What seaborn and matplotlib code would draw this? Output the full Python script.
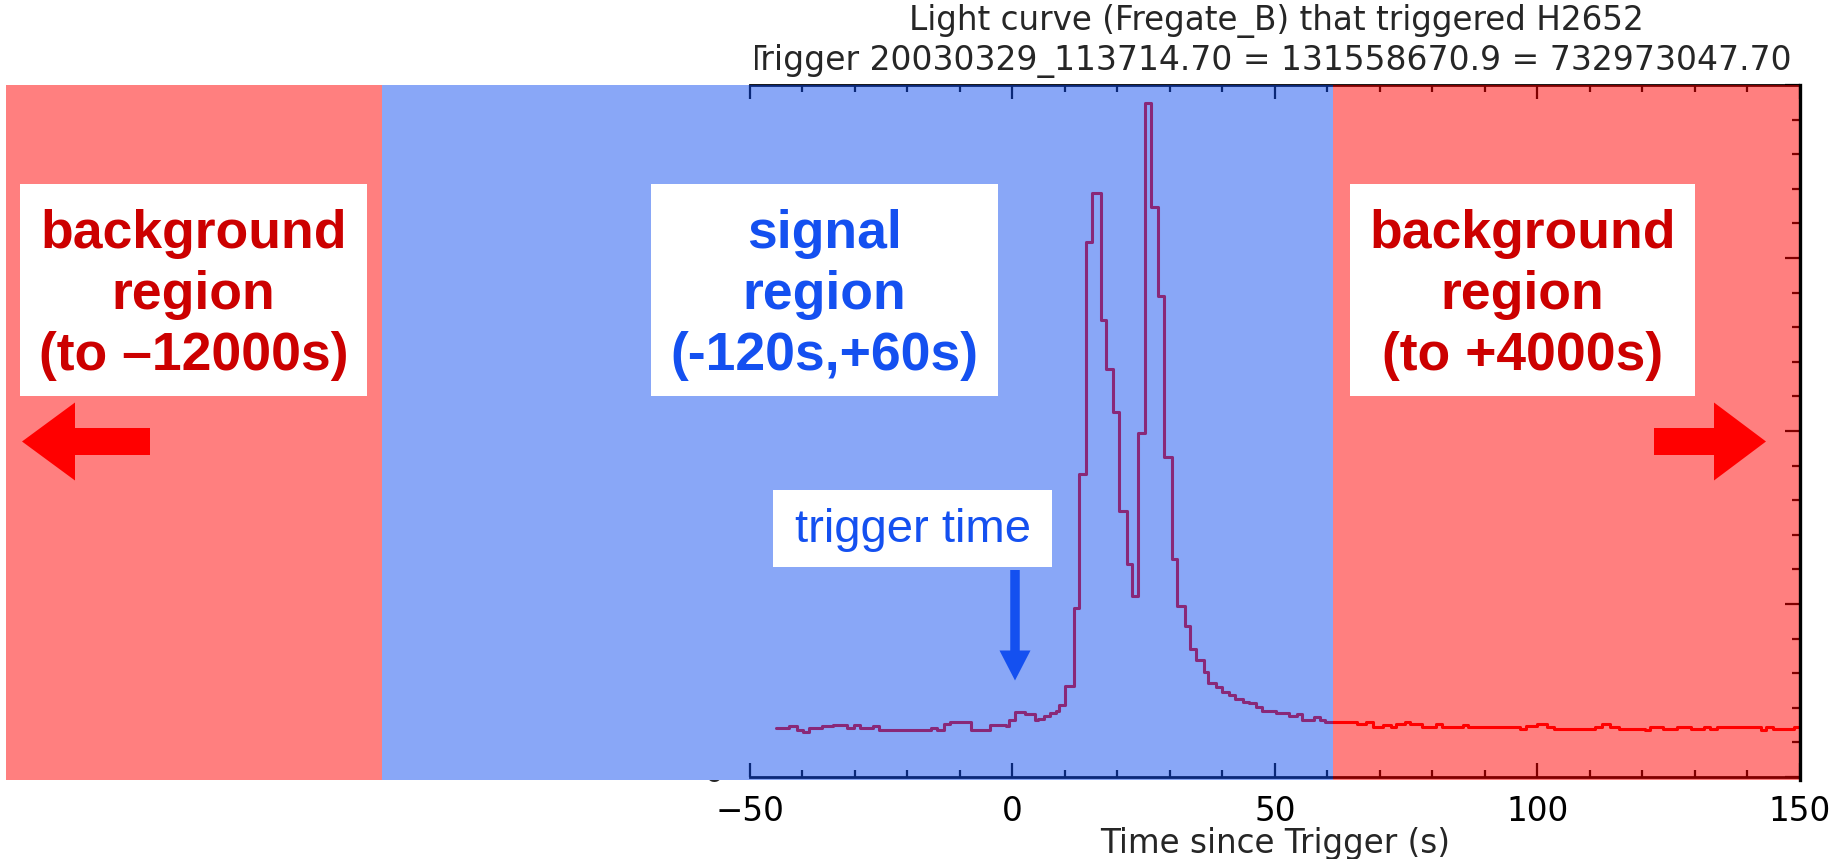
import matplotlib
matplotlib.use("Agg")
import matplotlib.pyplot as plt
import matplotlib.transforms as mtransforms
from matplotlib.patches import Rectangle, FancyArrow
from matplotlib.ticker import FixedLocator, MultipleLocator
import seaborn as sns
import pandas as pd

# light curve (bin start time in s, count rate)
time_s = [-45.0, -42.5, -41.0, -39.9, -38.8, -36.3, -34.1, -31.6, -30.1, -29.0,
          -26.5, -25.4, -15.5, -14.4, -13.0, -11.9, -7.9, -4.2, -1.3, -0.6,
          0.5, 2.3, 4.2, 4.9, 6.0, 7.1, 8.2, 8.9, 10.0, 11.8,
          12.7, 14.1, 15.1, 16.8, 17.8, 19.1, 20.2, 21.9, 22.7, 24.0,
          25.3, 26.4, 27.8, 28.9, 30.4, 31.3, 32.8, 33.8, 34.9, 36.4,
          37.3, 38.8, 39.9, 41.3, 42.4, 43.9, 45.0, 46.4, 47.5, 50.1,
          52.6, 54.1, 55.2, 57.4, 58.5, 59.5, 65.6, 67.3, 68.6, 70.5,
          72.1, 73.1, 74.8, 75.7, 78.0, 80.6, 81.9, 85.8, 86.8, 96.6,
          97.9, 99.9, 101.8, 103.1, 110.9, 112.3, 113.9, 115.5, 120.4, 121.4,
          124.0, 126.6, 129.2, 131.8, 132.8, 134.1, 142.6, 143.6, 144.9, 148.8,
          150.0]
rate = [141, 146, 137, 130, 141, 146, 151, 143, 150, 141,
        146, 137, 143, 137, 152, 159, 137, 150, 146, 165,
        187, 182, 166, 169, 175, 184, 192, 208, 263, 489,
        876, 1547, 1687, 1321, 1179, 1055, 769, 617, 524, 995,
        1949, 1646, 1391, 926, 630, 495, 437, 369, 337, 304,
        272, 259, 246, 237, 224, 218, 214, 201, 192, 184,
        175, 182, 166, 172, 166, 158, 152, 158, 145, 150,
        144, 152, 158, 153, 145, 152, 145, 151, 145, 138,
        146, 153, 145, 138, 145, 153, 145, 138, 136, 145,
        138, 145, 138, 145, 138, 145, 136, 145, 138, 145,
        145]

x_major = [-50, 0, 50, 100, 150]
x_minor = list(range(-50, 151, 10))

# shaded regions (start, end, colour)
region_start = [-191.7, -120, 61]
region_end = [-120, 61, 150]
region_color = ["#ff0000", "#1450f0", "#ff0000"]

box_labels = ["background\nregion\n(to \u201312000s)",
              "signal\nregion\n(-120s,+60s)",
              "background\nregion\n(to +4000s)"]
box_colors = ["#cc0000", "#1450f0", "#cc0000"]

title1 = "Light curve (Fregate_B) that triggered H2652"
title2 = "Trigger 20030329_113714.70 = 131558670.9 = 732973047.70"

sns.set_style("ticks")
plt.rcParams["font.family"] = ["DejaVu Sans"]

W, H = 1837, 859
fig = plt.figure(figsize=(W / 100, H / 100), dpi=100)
# helper transform: reference pixels (origin top-left) -> figure
px = mtransforms.Affine2D().scale(1 / W, -1 / H).translate(0, 1) + fig.transFigure

ax = fig.add_axes([6 / W, 1 - 780 / H, (1800 - 6) / W, (780 - 85) / H])
ax.set_facecolor("white")

df = pd.DataFrame({"time": time_s, "rate": rate})
sns.lineplot(data=df, x="time", y="rate", ax=ax, color="#ff0000", lw=2.2,
             drawstyle="steps-post", zorder=2)

for x0, x1, c in zip(region_start, region_end, region_color):
    ax.axvspan(x0, x1, color=c, alpha=0.5, lw=0, zorder=3)

ax.set_xlim(-191.7, 150)
ax.set_ylim(-8.7, 2000)

ax.spines["left"].set_visible(False)
ax.spines["bottom"].set_position(("data", 0))
ax.spines["bottom"].set_bounds(-50, 150)
ax.spines["top"].set_bounds(-50, 150)
for s in ["bottom", "top"]:
    ax.spines[s].set_linewidth(2)
    ax.spines[s].set_color("black")
    ax.spines[s].set_zorder(2.5)
ax.spines["right"].set_linewidth(2.4)
ax.spines["right"].set_color("black")
ax.spines["right"].set_zorder(4)

ax.xaxis.set_major_locator(FixedLocator(x_major))
ax.xaxis.set_minor_locator(FixedLocator(x_minor))
ax.tick_params(axis="x", which="both", direction="in", top=True, bottom=True,
               width=1.6, colors="black")
ax.tick_params(axis="x", which="major", length=10, pad=13, labelsize=23.5)
ax.tick_params(axis="x", which="minor", length=5)
ax.yaxis.set_major_locator(MultipleLocator(500))
ax.yaxis.set_minor_locator(MultipleLocator(100))
ax.tick_params(axis="y", which="both", direction="in", left=False, right=True,
               labelleft=False, labelright=False, width=1.6, colors="black")
ax.tick_params(axis="y", which="major", length=11)
ax.tick_params(axis="y", which="minor", length=5.5)

ax.set_ylabel("")
ax.set_xlabel("Time since Trigger (s)", fontsize=23.5)
ax.xaxis.set_label_coords((50 + 191.7) / 341.7, (780 - 843) / 695)
ax.xaxis.label.set_verticalalignment("center")

# title lines (the second one is cut off at the left like in the screenshot)
fig.text(1276, 21, title1, transform=px, ha="center", va="center", fontsize=23.5)
t2 = fig.text(1268, 61, title2, transform=px, ha="center", va="center", fontsize=23.8)
t2.set_clip_box(mtransforms.TransformedBbox(
    mtransforms.Bbox.from_extents(755 / W, 0, 1, 1), fig.transFigure))
t2.set_clip_on(True)

# leftover of a y tick label peeking out under the shading
t0 = fig.text(714, 772, "0", transform=px, ha="center", va="center", fontsize=23.5)
t0.set_clip_box(mtransforms.TransformedBbox(
    mtransforms.Bbox.from_extents(0, 0, 1, 1 - 780 / H), fig.transFigure))
t0.set_clip_on(True)

# white label boxes
box_left = [20, 651, 1350]
box_width = [347, 347, 345]
for bx, bw, lab, col in zip(box_left, box_width, box_labels, box_colors):
    fig.add_artist(Rectangle((bx, 184), bw, 212, transform=px,
                             facecolor="white", edgecolor="none", zorder=5))
    fig.text(bx + bw / 2, 295, lab, transform=px, ha="center", va="center",
             ma="center", fontsize=38.5, fontweight="bold", color=col,
             family="Liberation Sans", linespacing=1.28, zorder=6)

fig.add_artist(Rectangle((773, 490), 279, 77, transform=px,
                         facecolor="white", edgecolor="none", zorder=5))
fig.text(913, 530, "trigger time", transform=px, ha="center", va="center",
         fontsize=34, color="#1450f0", family="Liberation Sans", zorder=6)

# arrows
fig.add_artist(FancyArrow(1015, 570, 0, 110.5, width=9.5, head_width=31,
                          head_length=30, length_includes_head=True,
                          transform=px, color="#1450f0", lw=0, zorder=6))
fig.add_artist(FancyArrow(150, 441.5, -128, 0, width=27, head_width=78,
                          head_length=53, length_includes_head=True,
                          transform=px, color="#ff0000", lw=0, zorder=6))
fig.add_artist(FancyArrow(1654, 441.5, 112, 0, width=27, head_width=78,
                          head_length=52, length_includes_head=True,
                          transform=px, color="#ff0000", lw=0, zorder=6))

fig.savefig("out.png", dpi=100)
